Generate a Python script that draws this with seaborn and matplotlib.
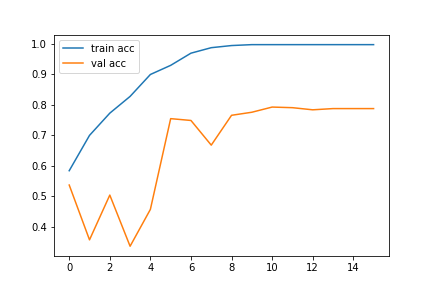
import matplotlib
matplotlib.use("Agg")
import matplotlib.pyplot as plt
import seaborn as sns
import numpy as np

epochs = list(range(16))
train_acc = [0.584, 0.700, 0.773, 0.828, 0.900, 0.930, 0.970, 0.988, 0.995, 0.998, 0.998, 0.998, 0.998, 0.998, 0.998, 0.998]
val_acc = [0.537, 0.357, 0.504, 0.336, 0.457, 0.755, 0.749, 0.668, 0.766, 0.776, 0.793, 0.791, 0.784, 0.788, 0.788, 0.788]

fig, ax = plt.subplots(figsize=(6, 4), dpi=72)
sns.lineplot(x=epochs, y=train_acc, ax=ax, label="train acc", color="#1f77b4")
sns.lineplot(x=epochs, y=val_acc, ax=ax, label="val acc", color="#ff7f0e")
ax.legend(loc="upper left")
fig.savefig("out.png", dpi=72)
